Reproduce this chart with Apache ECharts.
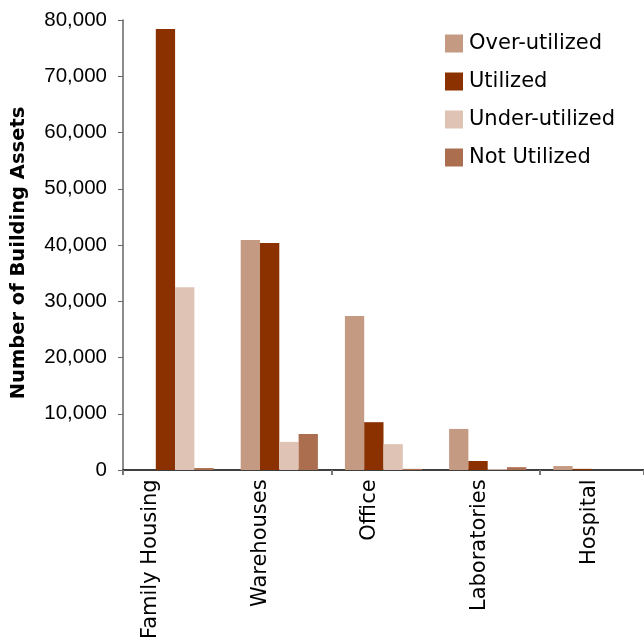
<!DOCTYPE html>
<html>
<head>
<meta charset="utf-8">
<script src="https://cdn.jsdelivr.net/npm/echarts@6/dist/echarts.min.js"></script>
<style>html,body{margin:0;padding:0;background:#fff}#c{width:644px;height:642px}</style>
</head>
<body>
<div id="c"></div>
<script>
var categories = ['Family Housing', 'Warehouses', 'Office', 'Laboratories', 'Hospital'];
var overUtilized = [0, 40900, 27400, 7300, 700];
var utilized = [78400, 40350, 8500, 1600, 200];
var underUtilized = [32500, 5000, 4600, 150, 0];
var notUtilized = [350, 6400, 200, 500, 0];
var seriesNames = ['Over-utilized', 'Utilized', 'Under-utilized', 'Not Utilized'];
var seriesColors = ['#C59A82', '#8B3100', '#DFC3B5', '#AB6F4F'];
var seriesData = [overUtilized, utilized, underUtilized, notUtilized];

var chart = echarts.init(document.getElementById('c'));
chart.setOption({
  animation: false,
  backgroundColor: '#fff',
  legend: {
    orient: 'vertical',
    left: 440,
    top: 28,
    itemWidth: 18,
    itemHeight: 18,
    itemGap: 17,
    icon: 'rect',
    textStyle: { fontFamily: 'DejaVu Sans', fontSize: 21, color: '#000', padding: [0, 0, 0, 1] },
    data: seriesNames
  },
  grid: [
    { left: 123, top: 20, width: 524.5, bottom: 172 },
    { left: 96, top: 20, width: 563, bottom: 172 }
  ],
  xAxis: [
    {
      type: 'category', gridIndex: 0, data: categories,
      axisLine: { lineStyle: { color: '#000', width: 1.5 } },
      axisTick: { show: true, length: 5, lineStyle: { color: '#777', width: 2 } },
      axisLabel: { show: false }
    },
    {
      type: 'category', gridIndex: 1, data: categories,
      axisLine: { show: false }, axisTick: { show: false },
      axisLabel: {
        rotate: 90, margin: 12, color: '#000',
        fontFamily: 'DejaVu Sans', fontSize: 21
      }
    }
  ],
  yAxis: [
    {
      type: 'value', gridIndex: 0, min: 0, max: 80000, interval: 10000,
      name: 'Number of Building Assets', nameLocation: 'middle', nameGap: 94,
      nameTextStyle: {
        fontFamily: 'DejaVu Sans', fontWeight: 'bold', fontSize: 19.5, color: '#000',
        padding: [0, 16, 0, 0]
      },
      axisLine: { show: true, lineStyle: { color: '#666', width: 1.5 } },
      axisTick: { show: true, length: 5, lineStyle: { color: '#666' } },
      splitLine: { show: false },
      axisLabel: {
        margin: 16, color: '#000', fontFamily: 'Liberation Sans', fontSize: 20.5,
        formatter: function (v) { return v.toLocaleString('en-US'); }
      }
    },
    { type: 'value', gridIndex: 1, show: false, min: 0, max: 80000 }
  ],
  series: seriesNames.map(function (n, i) {
    return {
      name: n, type: 'bar', xAxisIndex: 0, yAxisIndex: 0,
      data: seriesData[i], barWidth: 19.3, barGap: '0%',
      itemStyle: { color: seriesColors[i] }
    };
  })
});
</script>
</body>
</html>
